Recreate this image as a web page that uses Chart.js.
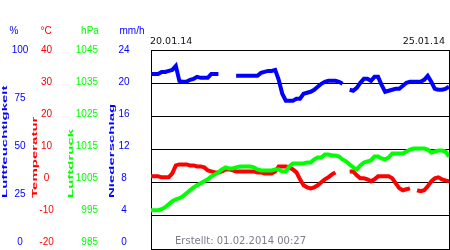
<!DOCTYPE html>
<html>
<head>
<meta charset="utf-8">
<script src="https://cdn.jsdelivr.net/npm/chart.js@4.4.1/dist/chart.umd.min.js"></script>
<style>
  body { margin: 0; background: #fff; }
</style>
</head>
<body>
<canvas id="myChart" width="450" height="250"></canvas>
<script>
// hours since 20.01.14 00:00
const hours = [0,2,4,6,8,10,12,14,16,18,20,22,24,26,28,30,32,34,36,38,40,42,44,46,48,50,52,54,56,58,
  60,62,64,66,68,70,72,74,76,78,80,82,84,86,88,90,92,94,96,98,100,102,104,106,108,110,112,114,116,118,
  120,122,124,126,128,130,132,134,136,138,140,142,144,146,148,150,152,154,156,158,160,162,164,166,168];

// Luftfeuchtigkeit in %
const humidity = [88,88,88,89,89,89.5,90,92,84.5,84,
  84,85,85.5,86.5,86,86,86,88,88,88,
  null,null,null,null,87,87,87,87,87,87,
  87,88.5,89,89.5,89.5,90,85,78,74.5,74.5,
  74.5,75.5,75.5,78,78.5,79,80,81.5,83,84,
  84.5,84.5,84.5,84,83,null,80,79.5,81,83.5,
  85.5,85.5,84.5,86.5,86.5,82.5,79,79.5,80,80.5,
  80.5,82,83.5,84,84,84,84,85,87,84,
  80.5,80,80,80.5,81.5];

// Temperatur in °C
const temperature = [1.9,1.9,1.9,1.6,1.6,1.6,2.8,5.2,5.5,5.5,
  5.5,5.2,5.2,4.9,4.9,4.6,3.7,3.4,3.1,3.1,
  3.4,4.0,4.0,3.7,3.4,3.4,3.4,3.4,3.4,3.4,
  3.1,3.1,2.8,2.8,2.8,3.4,4.9,4.9,4.9,4.6,
  4.0,3.1,1.0,-0.8,-1.4,-1.7,-1.4,-0.8,0.1,1.0,
  1.6,2.5,3.1,null,null,null,3.4,3.4,2.2,1.3,
  1.3,1.0,0.4,1.0,1.9,1.9,1.9,1.9,1.3,-0.2,
  -1.7,-2.3,-2.0,-1.7,null,-2.3,-2.6,-2.3,-1.1,0.4,
  1.3,1.6,1.0,0.7,0.4];

// Luftdruck in hPa
const pressure = [996.7,996.7,996.7,997.0,997.6,998.5,999.4,1000.0,1000.3,1000.9,
  1001.8,1002.7,1003.6,1004.2,1004.8,1005.4,1006.0,1006.9,1007.5,1008.1,
  1009.0,1009.6,1009.3,1009.3,1009.6,1009.9,1009.9,1009.9,1009.9,1009.6,
  1009.0,1008.7,1008.7,1008.7,1008.7,1009.0,1009.0,1008.4,1008.4,1009.9,
  1010.8,1010.8,1010.8,1010.8,1011.1,1011.1,1012.0,1012.6,1012.6,1013.5,
  1013.5,1013.2,1013.2,1012.9,1012.0,1011.4,1010.5,1009.6,1009.0,1010.2,
  1011.1,1011.4,1011.7,1012.9,1012.9,1012.3,1012.0,1012.6,1013.8,1013.8,
  1013.8,1013.8,1014.4,1015.0,1015.3,1015.3,1015.3,1015.3,1015.0,1014.1,
  1014.4,1014.7,1014.7,1014.4,1012.9];

const unitLabels = ['%', '°C', 'hPa', 'mm/h'];
const axisTitles = ['Luftfeuchtigkeit', 'Temperatur', 'Luftdruck', 'Niederschlag'];
const dateLabels = ['20.01.14', '25.01.14'];
const createdText = 'Erstellt: 01.02.2014 00:27';

const COLORS = {
  blue: 'rgb(0,0,255)',
  red: 'rgb(255,0,0)',
  green: 'rgb(0,255,0)',
  black: 'rgb(0,0,0)',
  grey: 'rgb(125,125,140)'
};
const columnColors = [COLORS.blue, COLORS.red, COLORS.green, COLORS.blue];
const unitX = [14, 46, 90, 132];
const titleX = [5, 35, 71, 111.5];

function points(values) {
  return hours.map((h, i) => ({ x: h, y: values[i] }));
}

// left axis column: labels drift a bit upwards towards the bottom like in the original
function leftAxis(min, max, step, color, width, pad, align, family) {
  return {
    position: 'left',
    min: min,
    max: max,
    grid: { display: false, drawTicks: false },
    border: { display: false },
    ticks: {
      stepSize: step,
      color: color,
      padding: pad,
      crossAlign: align,
      autoSkip: false,
      callback: v => [String(v), ''],
      font: c => ({
        family: family,
        size: 10,
        lineHeight: c.tick ? (13 * (max - c.tick.value) / (max - min)).toFixed(2) + 'px' : '12px'
      })
    },
    afterFit: s => { s.width = width; s.paddingTop = 0; s.paddingBottom = 0; }
  };
}

const sans = '"Liberation Sans", Arial, sans-serif';

const yN = leftAxis(0, 24, 4, COLORS.blue, 48, 21.45, 'center', sans);
yN.grid = { display: true, drawTicks: false, color: COLORS.black, lineWidth: 1 };
yN.border = { display: true, color: COLORS.black, width: 1 };

const textPlugin = {
  id: 'texts',
  afterDraw(chart) {
    const ctx = chart.ctx;
    ctx.save();
    ctx.textBaseline = 'middle';

    ctx.font = '10px ' + sans;
    ctx.textAlign = 'center';
    unitLabels.forEach((u, i) => {
      ctx.fillStyle = columnColors[i];
      ctx.fillText(u, unitX[i], 31);
    });

    ctx.font = 'bold 15px ' + sans;
    ctx.textAlign = 'left';
    axisTitles.forEach((t, i) => {
      ctx.save();
      ctx.translate(titleX[i], 198);
      ctx.rotate(-Math.PI / 2);
      ctx.scale(1, 0.5);
      ctx.fillStyle = columnColors[i];
      ctx.fillText(t, 0, 0);
      ctx.restore();
    });

    ctx.font = '9.5px "DejaVu Sans", sans-serif';
    ctx.fillStyle = '#111';
    ctx.textAlign = 'left';
    ctx.fillText(dateLabels[0], chart.chartArea.left - 1, 42);
    ctx.textAlign = 'right';
    ctx.fillText(dateLabels[1], chart.chartArea.right - 4, 42);

    ctx.font = '10px "DejaVu Sans", sans-serif';
    ctx.fillStyle = COLORS.grey;
    ctx.textAlign = 'left';
    ctx.fillText(createdText, 175, 241);
    ctx.restore();
  }
};

const data = {
  datasets: [
    { label: 'Luftfeuchtigkeit', data: points(humidity), yAxisID: 'yH', borderColor: COLORS.blue },
    { label: 'Luftdruck', data: points(pressure), yAxisID: 'yP', borderColor: COLORS.green },
    { label: 'Temperatur', data: points(temperature), yAxisID: 'yT', borderColor: COLORS.red }
  ]
};
data.datasets.forEach(d => {
  d.borderWidth = 4;
  d.pointRadius = 0;
  d.tension = 0;
  d.spanGaps = false;
  d.fill = false;
});

// left boxes: the first one defined sits next to the plot
const config = {
  type: 'line',
  data: data,
  options: {
    responsive: false,
    animation: false,
    layout: { padding: { top: 50, right: 1, bottom: 1, left: 0 } },
    plugins: {
      legend: { display: false },
      tooltip: { enabled: false }
    },
    scales: {
      x: {
        type: 'linear',
        min: 0,
        max: 168,
        ticks: { display: false },
        grid: { color: COLORS.black, drawTicks: false },
        border: { color: COLORS.black },
        afterBuildTicks: s => { s.ticks = [{ value: 0 }, { value: 168 }]; }
      },
      yN: yN,
      yP: leftAxis(985, 1045, 10, COLORS.green, 43, 5, 'near', '"Liberation Sans Narrow", ' + sans),
      yT: leftAxis(-20, 40, 10, COLORS.red, 30, 6.25, 'center', sans),
      yH: leftAxis(0, 100, 25, COLORS.blue, 30, 1.65, 'center', sans)
    }
  },
  plugins: [textPlugin]
};

const myChart = new Chart(document.getElementById('myChart'), config);
</script>
</body>
</html>
